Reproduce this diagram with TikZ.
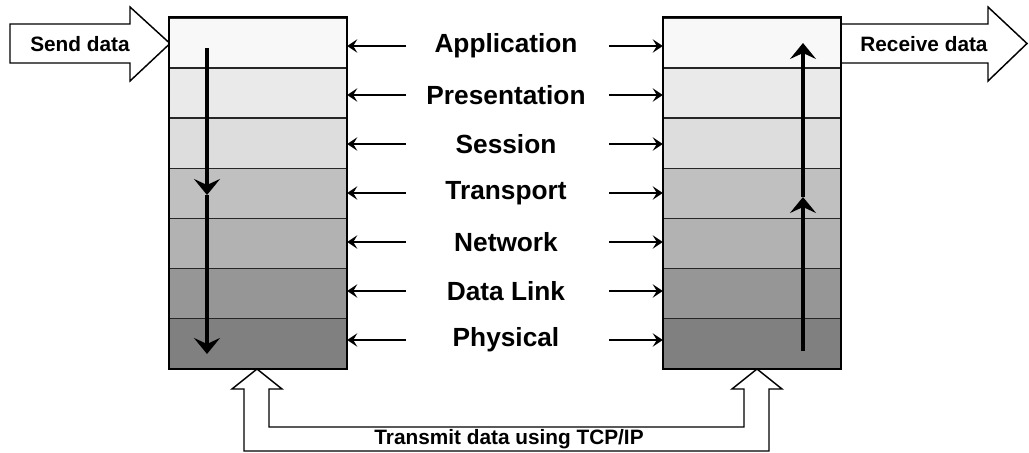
\documentclass[tikz,border=0pt]{standalone}
\usepackage{fontspec}
\setmainfont{Liberation Sans}
\usetikzlibrary{arrows.meta}

\begin{document}
\begin{tikzpicture}[ x=0.75pt, y=-0.75pt, >=Stealth,
        layer/.style={ draw=black!85, line width=1.1pt, inner sep=0pt,
          minimum width=132.75pt, minimum height=37.575pt },
        peer/.style={ -{Stealth[length=7.5pt,width=10pt,inset=3pt]},
          line width=1.1pt },
        flow/.style={ -{Stealth[length=12pt,width=19.5pt,inset=4.5pt]},
          line width=3pt },
        bigarrow/.style={ draw, fill=white, line width=1.1pt,
          line join=miter, miter limit=10 },
        lbl/.style={ font=\fontsize{19.7}{22}\selectfont\bfseries },
        small/.style={ font=\fontsize{15.6}{18}\selectfont\bfseries } ]
        \useasboundingbox (0,0) rectangle (1029,453);

        % block arrows
        \draw[bigarrow] (10,24) -- (130,24) -- (130,7) -- (170,43.5)
        -- (130,81) -- (130,63) -- (10,63) -- cycle;
        \draw[bigarrow] (841,24) -- (988,24) -- (988,7) -- (1027,43.5)
        -- (988,81) -- (988,63) -- (841,63) -- cycle;
        \draw[bigarrow] (257,369) -- (282,389) -- (269,389) -- (269,427)
        -- (744,427) -- (744,389) -- (732,389) -- (757,369) -- (782,389)
        -- (769,389) -- (769,451) -- (244,451) -- (244,389) -- (232,389)
        -- cycle;
        \node[small] (send) at (80,44) {Send data};
        \node[small] (recv) at (924,44) {Receive data};
        \node[small] (tcp) at (509,439) {Transmit data using TCP/IP};

        \foreach \i/\l/\c in {1/Application/F8F8F8,2/Presentation/EAEAEA,
          3/Session/DDDDDD,4/Transport/C0C0C0,5/Network/B2B2B2,
          6/Data Link/969696,7/Physical/808080} {
          \definecolor{lc\i}{HTML}{\c}
          \node[layer,fill=lc\i] (L\i) at (258,{18+50.1*(\i-0.5)}) {};
          \node[layer,fill=lc\i] (R\i) at (752,{18+50.1*(\i-0.5)}) {};
          \node[lbl] (n\i) at (506,{46+49*(\i-1)}) {\l};
          \coordinate (pl\i) at (406,{46+49*(\i-1)});
          \coordinate (pr\i) at (609,{46+49*(\i-1)});
          \draw[peer] (pl\i) -- (pl\i -| L\i.east);
          \draw[peer] (pr\i) -- (pr\i -| R\i.west);
        }

        \draw[line width=1.5pt] (L1.north west) rectangle (L7.south east);
        \draw[line width=1.5pt] (R1.north west) rectangle (R7.south east);

        % data flow through the stacks
        \coordinate (s0) at (207,48); \coordinate (s1) at (207,195);
        \coordinate (s2) at (207,354);
        \coordinate (r0) at (803,351); \coordinate (r1) at (803,197);
        \coordinate (r2) at (803,43);
        \draw[flow] (s0) -- (s1); \draw[flow] (s1) -- (s2);
        \draw[flow] (r0) -- (r1); \draw[flow] (r1) -- (r2);
      \end{tikzpicture}
\end{document}
